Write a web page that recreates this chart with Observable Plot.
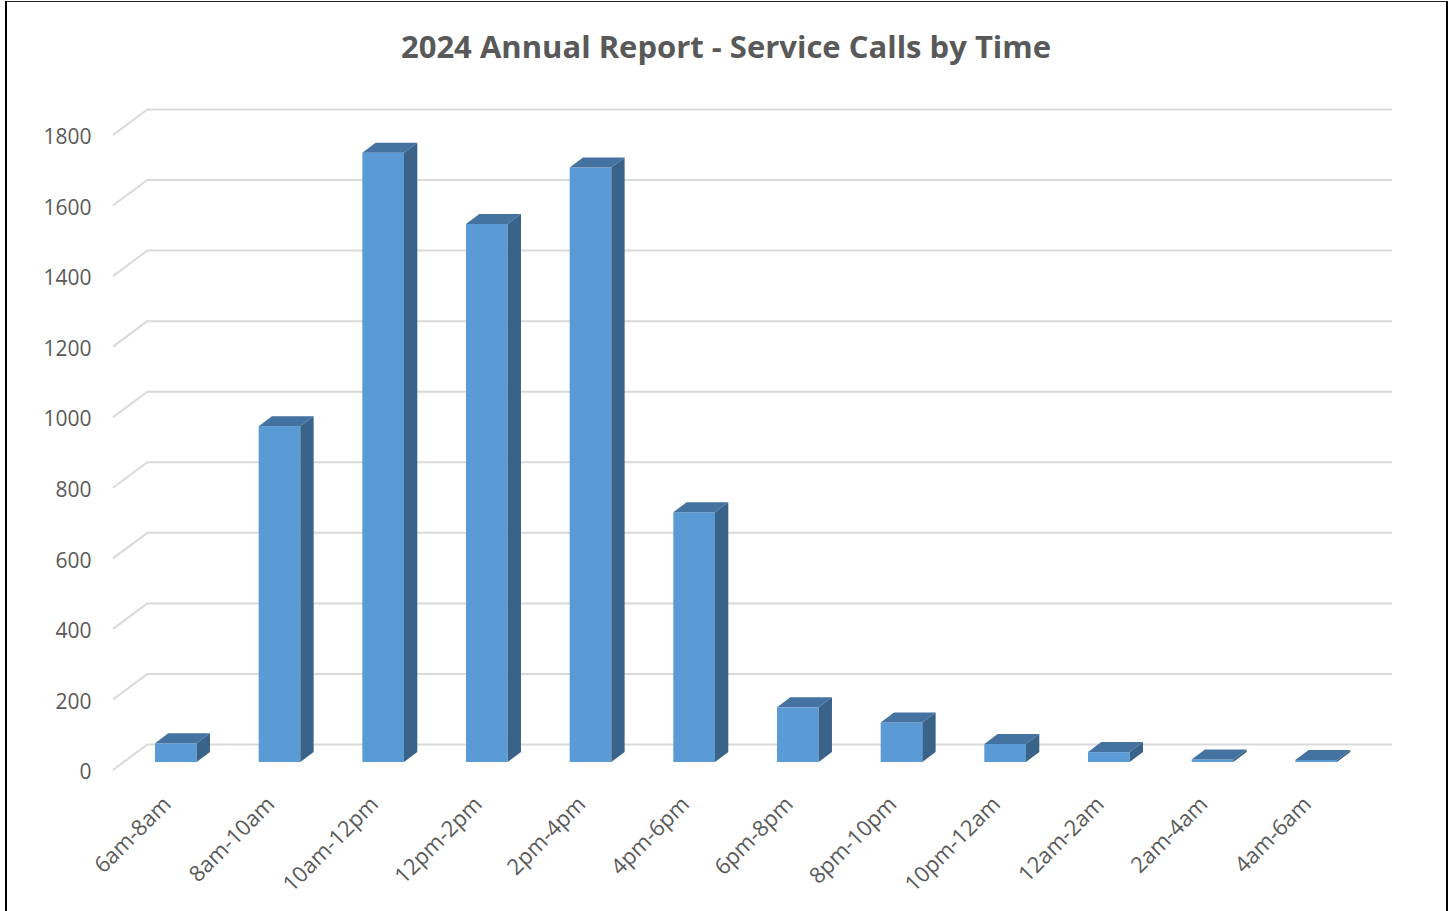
<!DOCTYPE html>
<html>
<head>
<meta charset="utf-8">
<script src="https://cdn.jsdelivr.net/npm/d3@7"></script>
<script src="https://cdn.jsdelivr.net/npm/@observablehq/plot@0.6"></script>
<style>
  html, body { margin: 0; padding: 0; background: #fff; }
  #frame { position: relative; width: 1452px; height: 911px; overflow: hidden; background: #fff; }
  #border { position: absolute; left: 5px; top: 1px; width: 1439px; height: 960px;
            border-left: 2px solid #000; border-right: 2px solid #000; border-top: 1.5px solid #222; }
  #title { position: absolute; top: 31px; left: 0; width: 1452px; text-align: center;
           font-family: "Open Sans", sans-serif; font-weight: 700; font-size: 31px; line-height: 31px;
           color: #595959; white-space: nowrap; }
  #chart { position: absolute; top: 80px; left: 0; }
</style>
</head>
<body>
<div id="frame">
  <div id="border"></div>
  <div id="title">2024 Annual Report - Service Calls by Time</div>
  <div id="chart"></div>
</div>
<script>
// ---- data ----
const timeSlots = ["6am-8am", "8am-10am", "10am-12pm", "12pm-2pm", "2pm-4pm", "4pm-6pm",
                   "6pm-8pm", "8pm-10pm", "10pm-12am", "12am-2am", "2am-4am", "4am-6am"];
const serviceCalls = [53, 952, 1727, 1525, 1685, 708, 155, 112, 51, 28, 7, 6];
const yTicks = [0, 200, 400, 600, 800, 1000, 1200, 1400, 1600, 1800];

const rows = timeSlots.map((slot, i) => ({slot, calls: serviceCalls[i]}));

// ---- 3D look (pixel offsets) ----
const BAR_DEPTH = {dx: 13.3, dy: 10};   // depth of each bar
const WALL = {dx: 24, dy: 18};          // back wall relative to bar plane
const FRONT = {dx: 11, dy: 8};          // front edge relative to bar plane
const FRONT_FILL = "#5B9BD5", TOP_FILL = "#4473A1", SIDE_FILL = "#3A6389";
const GRID = "#D9D9D9", TEXT = "#595959";
const SVGNS = "http://www.w3.org/2000/svg";

function bars3d(index, scales, values, dims, ctx, next) {
  const g = next(index, scales, values, dims, ctx);
  const rects = Array.from(g.querySelectorAll("rect"));
  for (const r of rects) {
    const x = +r.getAttribute("x"), y = +r.getAttribute("y");
    const w = +r.getAttribute("width"), h = +r.getAttribute("height");
    const {dx, dy} = BAR_DEPTH;
    const top = document.createElementNS(SVGNS, "polygon");
    top.setAttribute("points", `${x},${y} ${x + dx},${y - dy} ${x + w + dx},${y - dy} ${x + w},${y}`);
    top.setAttribute("fill", TOP_FILL);
    const side = document.createElementNS(SVGNS, "polygon");
    side.setAttribute("points", `${x + w},${y} ${x + w + dx},${y - dy} ${x + w + dx},${y + h - dy} ${x + w},${y + h}`);
    side.setAttribute("fill", SIDE_FILL);
    g.appendChild(top);
    g.appendChild(side);
  }
  return g;
}

function diagonals(index, scales, values, dims) {
  const g = d3.create("svg:g").attr("stroke", GRID).attr("stroke-width", 2).attr("fill", "none");
  for (const i of index) {
    const y = values.y[i];
    g.append("line")
      .attr("x1", dims.marginLeft - FRONT.dx).attr("y1", y + FRONT.dy)
      .attr("x2", dims.marginLeft + WALL.dx).attr("y2", y - WALL.dy);
  }
  return g.node();
}

const chart = Plot.plot({
  width: 1452,
  height: 831,
  marginTop: 47,
  marginBottom: 149,
  marginLeft: 124,
  marginRight: 84,
  style: {fontFamily: "'Open Sans', sans-serif", fontSize: "21px", color: TEXT, background: "transparent"},
  x: {domain: timeSlots, paddingInner: 0.598, paddingOuter: 0.299, align: 0.5, round: false, label: null},
  y: {domain: [0, 1800], label: null},
  marks: [
    Plot.ruleY(yTicks, {dx: WALL.dx, dy: -WALL.dy, stroke: GRID, strokeWidth: 2}),
    Plot.ruleY(yTicks, {render: diagonals}),
    Plot.axisY(yTicks, {tickSize: 0, tickPadding: 33, dy: 10, fontSize: 21, color: TEXT,
                        tickFormat: d => String(d), label: null}),
    Plot.axisX({tickSize: 0, tickPadding: 38, dx: -9, tickRotate: -45, fontSize: 22, color: TEXT, label: null}),
    Plot.barY(rows, {x: "slot", y: "calls", fill: FRONT_FILL, render: bars3d})
  ]
});
document.getElementById("chart").appendChild(chart);
</script>
</body>
</html>
